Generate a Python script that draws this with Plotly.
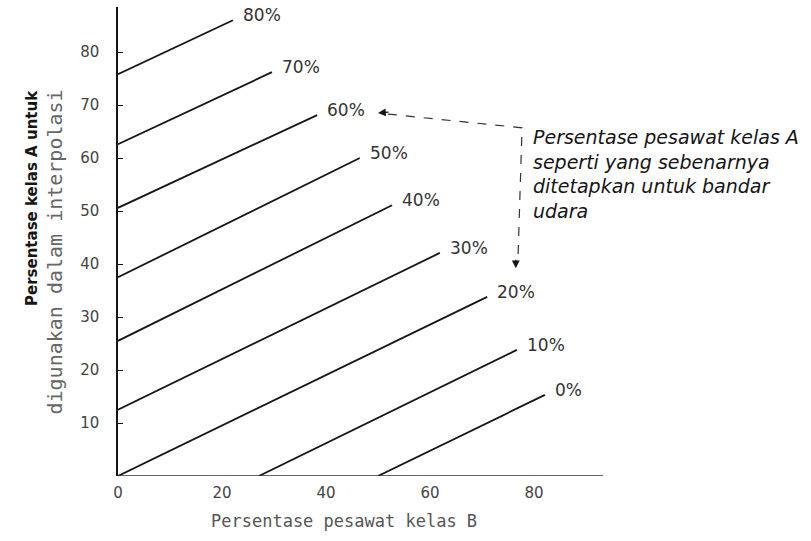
import plotly.graph_objects as go

# ---- data ----
line_labels = ["0%", "10%", "20%", "30%", "40%", "50%", "60%", "70%", "80%"]
x_start = [50.0, 27.1, 0, 0, 0, 0, 0, 0, 0]
y_start = [0, 0, 0, 12.5, 25.5, 37.5, 50.6, 62.6, 75.8]
x_end = [82.1, 76.7, 71.0, 61.9, 52.7, 46.5, 38.3, 29.6, 22.1]
y_end = [15.3, 23.8, 33.8, 42.1, 51.1, 60.0, 68.1, 76.2, 86.0]

x_ticks = [0, 20, 40, 60, 80]
y_ticks = [10, 20, 30, 40, 50, 60, 70, 80]

note_text = ("Persentase pesawat kelas A<br>seperti yang sebenarnya<br>"
             "ditetapkan untuk bandar<br>udara")

INK = "#151515"
GREY = "#444444"

# plot-area geometry (pixels)
L, R, T, B = 118, 95, 7, 65
PW, PH = 811 - L - R, 541 - T - B


def px(xp):
    return (xp - L) / PW


def py(yp):
    return (541 - B - yp) / PH


fig = go.Figure()
for xs, ys, xe, ye, lab in zip(x_start, y_start, x_end, y_end, line_labels):
    fig.add_trace(go.Scatter(x=[xs, xe], y=[ys, ye], mode="lines",
                             line=dict(color=INK, width=1.8),
                             hoverinfo="skip", showlegend=False))
    fig.add_annotation(x=xe, y=ye, text=lab, showarrow=False,
                       xanchor="left", yanchor="middle", xshift=8, yshift=5,
                       font=dict(family="DejaVu Sans", size=17, color="#333333"))

# x axis baseline (drawn only as far as the original)
fig.add_shape(type="line", xref="x", yref="y", x0=0, y0=0, x1=93.3, y1=0,
              line=dict(color="#333333", width=1.3))

# dashed leader from the note to the 60% line and to the 20% line
fig.add_shape(type="path", xref="x", yref="y",
              path="M 51.9,68.3 L 77.7,65.7 L 76.9,40.4",
              line=dict(color="#333333", width=1.2, dash="dash"))
fig.add_annotation(x=50.0, y=68.5, ax=12, ay=-1, text="", showarrow=True,
                   arrowhead=2, arrowsize=1.2, arrowwidth=1.3, arrowcolor=INK)
fig.add_annotation(x=76.5, y=39.2, ax=0, ay=-10, text="", showarrow=True,
                   arrowhead=2, arrowsize=1.2, arrowwidth=1.3, arrowcolor=INK)

# note text
fig.add_annotation(xref="paper", yref="paper", x=px(531), y=py(124),
                   text=note_text, showarrow=False, xanchor="left", yanchor="top",
                   align="left",
                   font=dict(family="DejaVu Sans", size=19, color=INK, style="italic"))

# y axis title (two lines)
fig.add_annotation(xref="paper", yref="paper", x=px(32), y=py(88),
                   text="Persentase kelas A untuk", textangle=-90, showarrow=False,
                   xanchor="center", yanchor="top",
                   font=dict(family="DejaVu Sans", size=15, color=INK, weight="bold"))
fig.add_annotation(xref="paper", yref="paper", x=px(54), y=py(88),
                   text="digunakan dalam interpolasi", textangle=-90, showarrow=False,
                   xanchor="center", yanchor="top",
                   font=dict(family="DejaVu Sans Mono", size=20, color="#666666"))

# x axis title
fig.add_annotation(xref="paper", yref="paper", x=px(344), y=py(521),
                   text="Persentase pesawat kelas B", showarrow=False,
                   xanchor="center", yanchor="middle",
                   font=dict(family="DejaVu Sans Mono", size=17, color="#555555"))

fig.update_layout(
    width=811, height=541,
    margin=dict(l=L, r=R, t=T, b=B),
    paper_bgcolor="white", plot_bgcolor="white",
    xaxis=dict(range=[0, 115], tickvals=x_ticks, ticktext=[str(v) for v in x_ticks],
               showgrid=False, zeroline=False, showline=False, ticks="",
               ticklabelstandoff=6,
               tickfont=dict(family="DejaVu Sans", size=15, color=GREY)),
    yaxis=dict(range=[0, 88.5], tickvals=y_ticks, ticktext=[str(v) for v in y_ticks],
               showgrid=False, zeroline=False, showline=True, linecolor=INK, linewidth=1.5,
               ticks="inside", ticklen=5, tickcolor=INK,
               ticklabelstandoff=14,
               tickfont=dict(family="DejaVu Sans", size=15, color=GREY)),
)

fig.write_html("out.html", config={"displayModeBar": False},
               post_script="document.body.style.margin='0';document.body.style.overflow='hidden';")
